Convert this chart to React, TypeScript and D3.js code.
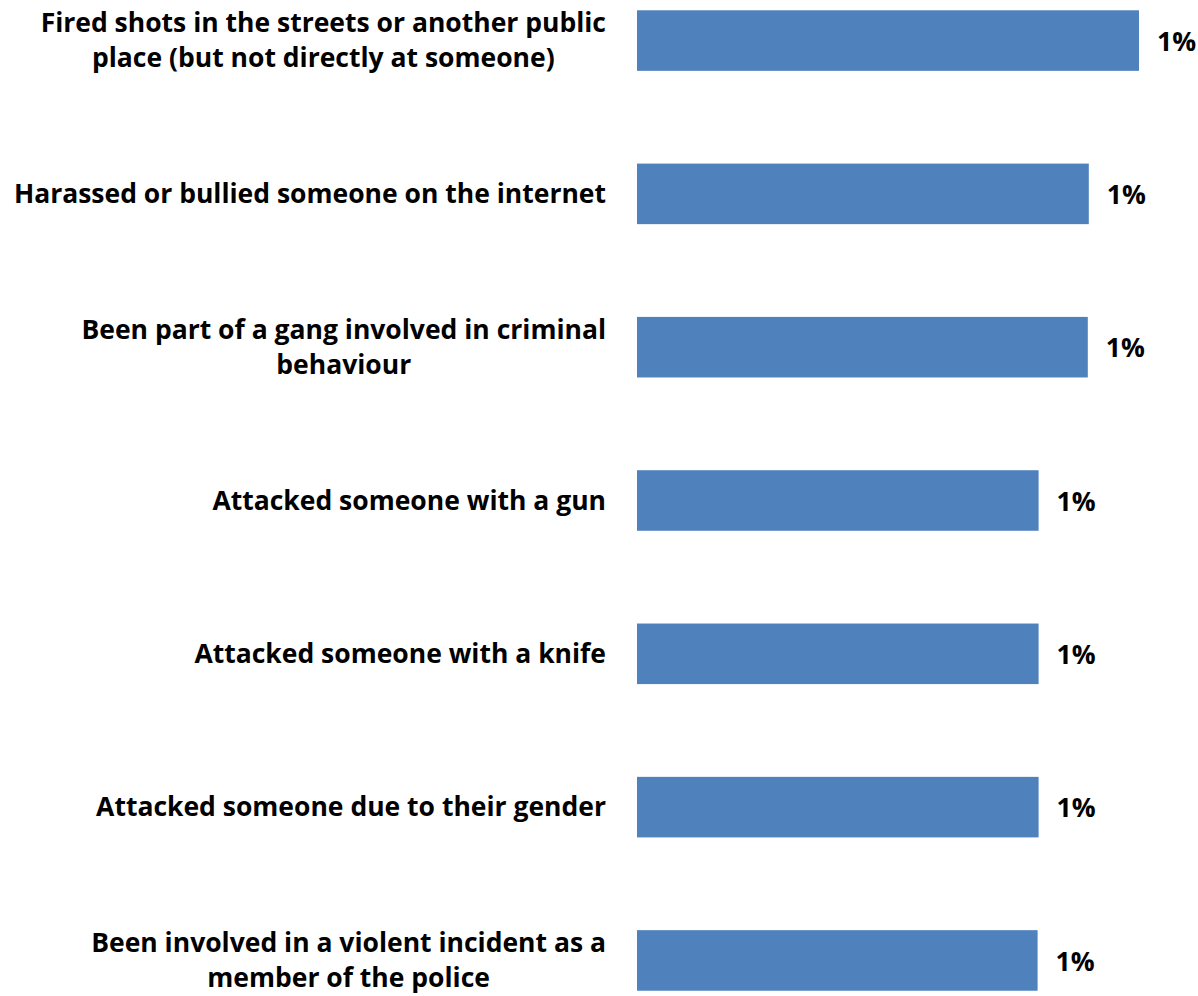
import React, { useEffect } from "react";
import * as d3 from "d3";

const categories: string[][] = [
  ["Fired shots in the streets or another public", "place (but not directly at someone)"],
  ["Harassed or bullied someone on the internet"],
  ["Been part of a gang involved in criminal", "behaviour"],
  ["Attacked someone with a gun"],
  ["Attacked someone with a knife"],
  ["Attacked someone due to their gender"],
  ["Been involved in a violent incident as a", "member of the police"],
];
const values: number[] = [1.0, 0.9, 0.898, 0.8, 0.8, 0.8, 0.798];
const valueLabels: string[] = ["1%", "1%", "1%", "1%", "1%", "1%", "1%"];

const W = 1198;
const H = 996;
const FONT = "'Open Sans', sans-serif";
const FS = 26.5;

let ctx: CanvasRenderingContext2D | null = null;
function measure(s: string): number {
  if (!ctx) ctx = document.createElement("canvas").getContext("2d");
  if (!ctx) return s.length * FS * 0.52;
  ctx.font = `bold ${FS}px 'Open Sans', sans-serif`;
  return ctx.measureText(s).width;
}

export default function App() {
  useEffect(() => {
    document.body.style.margin = "0";
  }, []);
  const ids = categories.map((_, i) => String(i));
  const y = d3.scaleBand<string>().domain(ids).range([0, 1001]).paddingInner(0.605).paddingOuter(0.067);
  const x = d3.scaleLinear().domain([0, 1]).range([637, 1139]);
  const lineH = 35;
  const labelRight = 606;
  return (
    <svg width={W} height={H} style={{ display: "block", background: "#fff" }}>
      {categories.map((lines, i) => {
        const yc = (y(ids[i]) as number) + y.bandwidth() / 2;
        const v = values[i];
        const maxW = Math.max(...lines.map(measure));
        const cx = labelRight - maxW / 2;
        return (
          <g key={i}>
            <rect x={x(0)} y={y(ids[i])} width={x(v) - x(0)} height={y.bandwidth()} fill="#4F81BD" />
            <text
              x={x(v) + 18}
              y={yc + 1}
              dy="0.35em"
              fontFamily={FONT}
              fontWeight="bold"
              fontSize={FS}
              fill="#000"
            >
              {valueLabels[i]}
            </text>
            {lines.map((ln, j) => (
              <text
                key={j}
                x={cx}
                y={yc + (j - (lines.length - 1) / 2) * lineH}
                dy="0.35em"
                textAnchor="middle"
                fontFamily={FONT}
                fontWeight="bold"
                fontSize={FS}
                fill="#000"
              >
                {ln}
              </text>
            ))}
          </g>
        );
      })}
    </svg>
  );
}
